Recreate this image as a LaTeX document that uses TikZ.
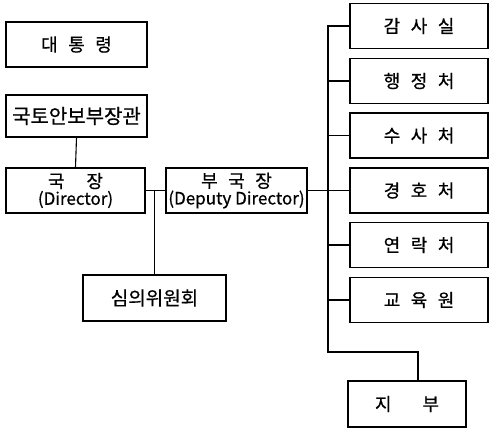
\documentclass[tikz,border=0pt]{standalone}
\usepackage{fontspec}
\setmainfont{Noto Sans CJK KR}[FakeBold=0.6]
\newcommand\krlbl{\fontsize{18}{19}\selectfont\spaceskip=10.5pt\relax}
\newcommand\krwide{\fontsize{18}{19}\selectfont\spaceskip=22pt\relax}
\newcommand\krjibu{\fontsize{18}{19}\selectfont\spaceskip=31pt\relax}
\newcommand\enlbl{\fontsize{17}{19}\selectfont}
\begin{document}
\begin{tikzpicture}[x=1pt,y=-1pt,
  box/.style={draw,line width=1.3pt,rectangle,inner sep=0pt,align=center},
  conn/.style={line width=1.1pt},
  lbl/.style={font=\krlbl},
  rbox/.style={box,lbl,minimum width=138pt,minimum height=45pt}]
\useasboundingbox (0,0) rectangle (489,429);
% left column
\node[box,lbl,minimum width=141pt,minimum height=45pt] (pres) at (76.5,44.5) {대 통 령};
\node[box,font=\fontsize{20}{21}\selectfont,minimum width=141pt,minimum height=42pt] (sec) at (76.5,116) {국토안보부장관};
\node[box,minimum width=139pt,minimum height=45pt,font=\enlbl] (dir) at (75.5,190.5) {{\krwide 국 장}\\[-2pt](Director)};
\node[box,minimum width=141pt,minimum height=45pt,font=\enlbl] (dep) at (236.5,190.5) {{\krlbl 부 국 장}\\[-2pt](Deputy Director)};
\node[box,font=\fontsize{19}{20}\selectfont,minimum width=143pt,minimum height=46pt] (comm) at (154.5,298) {심의위원회};
% right column
\node[rbox] (gam) at (419,26) {감 사 실};
\node[rbox] (haeng) at (419,81) {행 정 처};
\node[rbox] (susa) at (419,135.5) {수 사 처};
\node[rbox] (gyeong) at (419,190.5) {경 호 처};
\node[rbox] (yeon) at (419,245) {연 락 처};
\node[rbox] (gyo) at (419,300) {교 육 원};
\node[box,font=\krjibu,minimum width=118pt,minimum height=46pt] (jibu) at (407,404) {지 부};
% connectors
\coordinate (busBot) at (328,352);
\draw[conn] (sec.south) -- (dir.north);
\draw[conn] (dir.east) -- (dep.west);
\draw[conn] (comm.north) -- (comm.north |- dir.east);
\draw[conn] (dep.east) -- (gyeong.west);
\draw[conn] (gam.west) -| (busBot) -| ([xshift=11pt]jibu.north);
\foreach \n in {haeng,susa,yeon,gyo}
  \draw[conn] (\n.west) -- (\n.west -| busBot);
\end{tikzpicture}
\end{document}
